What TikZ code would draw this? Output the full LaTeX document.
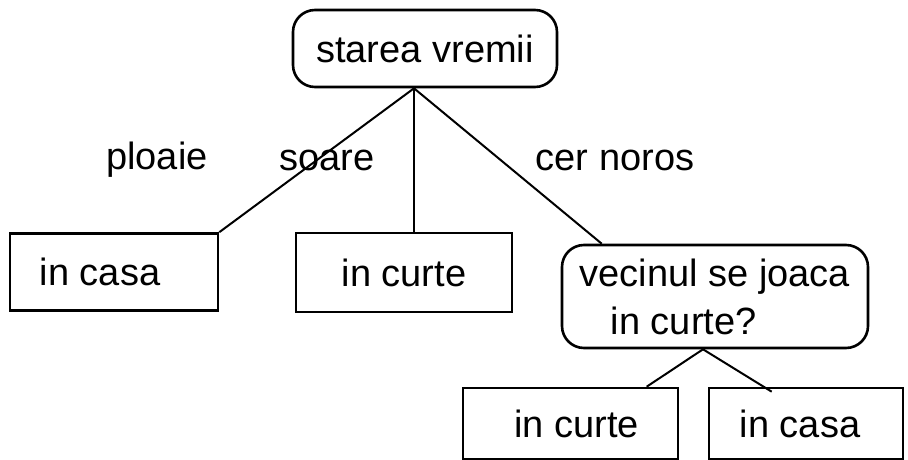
\documentclass[tikz,border=0pt]{standalone}
\usepackage{fontspec}
\setmainfont{Liberation Sans}
\begin{document}
\begin{tikzpicture}[x=1pt,y=-1pt,
  every node/.style={font=\fontsize{38}{48}\selectfont, inner sep=0pt},
  box/.style={draw, line width=2.6pt},
  rbox/.style={draw, line width=2.6pt, rounded corners=22pt},
  link/.style={line width=2pt},
  lbl/.style={anchor=center}]
  \useasboundingbox (0,0) rectangle (908,460);
  % decision nodes
  \node[rbox, minimum width=264pt, minimum height=77pt] (top) at (425,48.5) {starea vremii};
  \node[rbox, minimum width=306pt, minimum height=103pt, align=left] (v) at (715,296.5)
    {vecinul se joaca\\\hspace*{31pt}in curte?};
  % leaves
  \node[box, minimum width=208pt, minimum height=77pt] (c1) at (114,272) {in casa\kern28pt};
  \node[box, minimum width=216pt, minimum height=79pt] (c2) at (404,272.5) {in curte};
  \node[box, minimum width=215pt, minimum height=71pt] (b1) at (570.5,423.5) {\kern12pt in curte};
  \node[box, minimum width=194pt, minimum height=71pt] (b2) at (806,423.5) {in casa\kern12pt};
  % branch points
  \coordinate (r) at ([xshift=-11pt]top.south);
  \coordinate (q) at ([xshift=-12pt]v.south);
  % edges
  \draw[link] (r) -- (c1.north east);
  \draw[link] (r) -- (r |- c2.north);
  \draw[link] (r) -- ([xshift=41pt]v.north west);
  \draw[link] (q) -- ([xshift=185pt]b1.north west);
  \draw[link] (q) -- ([xshift=64pt,yshift=-5pt]b2.north west);
  % edge labels
  \node[lbl] (lp) at (157,160) {ploaie};
  \node[lbl] (ls) at (327,160) {soare};
  \node[lbl] (lc) at (615,160) {cer noros};
\end{tikzpicture}
\end{document}
